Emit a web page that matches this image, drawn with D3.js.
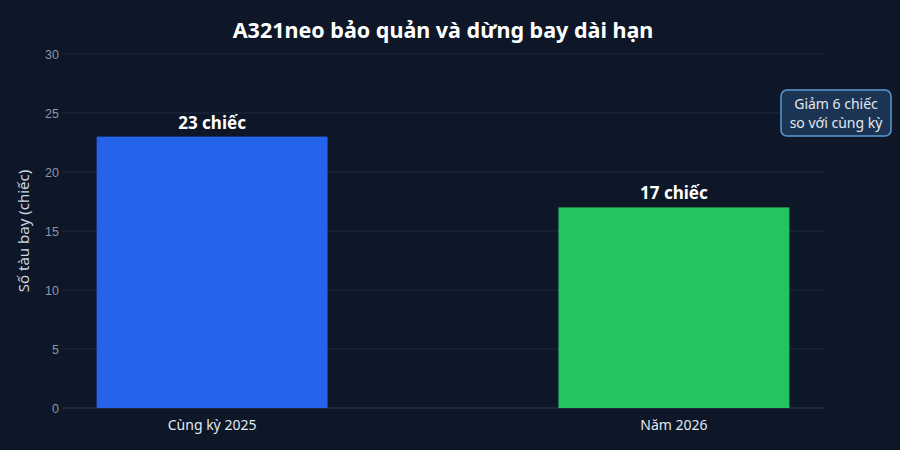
<!DOCTYPE html>
<html lang="vi">
<head>
<meta charset="UTF-8">
<title>A321neo</title>
<style>
	body{margin:0;background:#0d1728;}
	svg{display:block;font-family:"Noto Sans","Open Sans",sans-serif;}
	.grid line{stroke:#1e2a3d;stroke-width:1px;}
	.ytick text{fill:#8b96a8;font-size:12.5px;}
	.xlab{fill:#e2e8f0;font-size:14px;}
	.val{fill:#ffffff;font-size:17px;font-weight:bold;}
</style>
</head>
<body>
<div id="chart"></div>
<script src="https://d3js.org/d3.v7.min.js"></script>
<script>
	var categories = ['Cùng kỳ 2025', 'Năm 2026'];
	var values = [23, 17];
	var valueLabels = ['23 chiếc', '17 chiếc'];
	var barColors = ['#2563eb', '#22c55e'];
	var yTicks = [0, 5, 10, 15, 20, 25, 30];
	var noteLines = ['Giảm 6 chiếc', 'so với cùng kỳ'];

	var W = 900, H = 450;
	var m = {top: 54, right: 76, bottom: 42, left: 62};

	var svg = d3.select('#chart').append('svg')
		.attr('width', W).attr('height', H);

	svg.append('rect').attr('width', W).attr('height', H).attr('fill', '#0d1728');

	var x = d3.scaleBand()
		.domain(categories)
		.range([m.left, W - m.right])
		.paddingInner(0.5)
		.paddingOuter(0.075);

	var y = d3.scaleLinear()
		.domain([0, 30])
		.range([H - m.bottom, m.top]);

	// gridlines
	var grid = svg.append('g').attr('class', 'grid');
	grid.selectAll('line')
		.data(yTicks)
		.enter().append('line')
		.attr('x1', m.left).attr('x2', W - m.right)
		.attr('y1', d => y(d)).attr('y2', d => y(d))
		.style('stroke', d => d === 0 ? '#2a3a52' : null);

	// y axis labels
	var yAxis = d3.axisLeft(y).tickValues(yTicks).tickSize(0).tickPadding(3);
	var ya = svg.append('g')
		.attr('class', 'ytick')
		.attr('transform', 'translate(' + m.left + ',0)')
		.call(yAxis);
	ya.select('.domain').remove();
	ya.selectAll('text').style('font-family', 'inherit');

	svg.append('text')
		.attr('transform', 'translate(29,' + ((m.top + H - m.bottom) / 2) + ') rotate(-90)')
		.attr('text-anchor', 'middle')
		.attr('fill', '#cbd5e1')
		.style('font-size', '15px')
		.text('Số tàu bay (chiếc)');

	// bars
	svg.selectAll('.bar')
		.data(values)
		.enter().append('rect')
		.attr('class', 'bar')
		.attr('x', (d, i) => x(categories[i]))
		.attr('width', x.bandwidth())
		.attr('y', d => y(d))
		.attr('height', d => y(0) - y(d))
		.attr('fill', (d, i) => barColors[i]);

	svg.selectAll('.val')
		.data(values)
		.enter().append('text')
		.attr('class', 'val')
		.attr('x', (d, i) => x(categories[i]) + x.bandwidth() / 2)
		.attr('y', d => y(d) - 8)
		.attr('text-anchor', 'middle')
		.text((d, i) => valueLabels[i]);

	// x labels
	svg.selectAll('.xlab')
		.data(categories)
		.enter().append('text')
		.attr('class', 'xlab')
		.attr('x', d => x(d) + x.bandwidth() / 2)
		.attr('y', H - m.bottom + 22)
		.attr('text-anchor', 'middle')
		.text(d => d);

	// title
	svg.append('text')
		.attr('x', 443).attr('y', 38)
		.attr('text-anchor', 'middle')
		.attr('fill', '#ffffff')
		.style('font-size', '21.5px')
		.style('font-weight', 'bold')
		.text('A321neo bảo quản và dừng bay dài hạn');

	// annotation box
	var note = svg.append('g').attr('transform', 'translate(836,113)');
	note.append('rect')
		.attr('x', -55).attr('y', -23)
		.attr('width', 110).attr('height', 46)
		.attr('rx', 6)
		.attr('fill', '#1b3453')
		.attr('stroke', '#5b9bd5')
		.attr('stroke-width', 1.5);
	note.selectAll('text')
		.data(noteLines)
		.enter().append('text')
		.attr('x', 0)
		.attr('y', (d, i) => -4 + i * 19)
		.attr('text-anchor', 'middle')
		.attr('fill', '#e2e8f0')
		.style('font-size', '14px')
		.text(d => d);
</script>
</body>
</html>
